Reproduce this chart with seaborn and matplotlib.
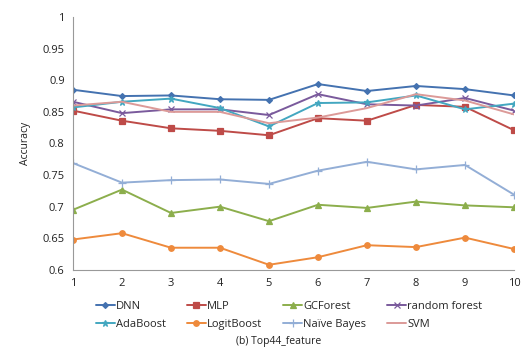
import pandas as pd
import seaborn as sns
import matplotlib.pyplot as plt

# feature set index on x axis
runs = [1, 2, 3, 4, 5, 6, 7, 8, 9, 10]

# accuracy
dnn = [0.885, 0.875, 0.876, 0.870, 0.869, 0.894, 0.883, 0.891, 0.886, 0.876]
mlp = [0.852, 0.836, 0.824, 0.820, 0.813, 0.840, 0.836, 0.861, 0.858, 0.821]
gcforest = [0.695, 0.727, 0.690, 0.700, 0.677, 0.703, 0.698, 0.708, 0.702, 0.699]
random_forest = [0.866, 0.848, 0.854, 0.854, 0.845, 0.878, 0.862, 0.860, 0.872, 0.852]
adaboost = [0.857, 0.866, 0.871, 0.856, 0.827, 0.864, 0.865, 0.876, 0.854, 0.863]
logitboost = [0.648, 0.658, 0.635, 0.635, 0.608, 0.620, 0.639, 0.636, 0.651, 0.633]
naive_bayes = [0.769, 0.738, 0.742, 0.743, 0.736, 0.757, 0.771, 0.759, 0.766, 0.719]
svm = [0.860, 0.866, 0.850, 0.850, 0.832, 0.841, 0.856, 0.878, 0.868, 0.846]

models = ['DNN', 'MLP', 'GCForest', 'random forest',
          'AdaBoost', 'LogitBoost', 'Naïve Bayes', 'SVM']
series = [dnn, mlp, gcforest, random_forest, adaboost, logitboost, naive_bayes, svm]

# long format table for seaborn
rows = []
for name, vals in zip(models, series):
    for x, v in zip(runs, vals):
        rows.append({'run': x, 'accuracy': v, 'model': name})
df = pd.DataFrame(rows)

sns.set_style('white')
plt.rcParams['font.family'] = ['Open Sans', 'DejaVu Sans']

colors = ['#4472B0', '#BE4B48', '#8CAE4C', '#7A5A9C',
          '#43A7C0', '#EE8A3C', '#93AED6', '#DC9A98']
markers = ['D', 's', '^', 'x', '*', 'o', '+', '']
sizes = [3, 4, 4.5, 4.5, 5, 4, 5.5, 0]

fig, ax = plt.subplots(figsize=(5.25, 3.56), dpi=100)
for name, c, m, s in zip(models, colors, markers, sizes):
    sub = df[df['model'] == name]
    sns.lineplot(data=sub, x='run', y='accuracy', ax=ax, color=c, marker=m if m else None,
                 markersize=s, markeredgecolor=c, markeredgewidth=0.9, linewidth=1.4, label=name)

ax.set_xlim(1, 10)
ax.set_ylim(0.6, 1.0)
ax.set_xticks(runs)
ax.set_yticks([0.6, 0.65, 0.7, 0.75, 0.8, 0.85, 0.9, 0.95, 1.0])
ax.set_yticklabels(['0.6', '0.65', '0.7', '0.75', '0.8', '0.85', '0.9', '0.95', '1'])
ax.set_xlabel('')
ax.set_ylabel('Accuracy', fontsize=7.5, color='#222222', labelpad=8)
ax.tick_params(labelsize=8, colors='#222222', direction='in', length=3, pad=6)
ax.tick_params(axis='both', color='#999999')
for side in ['top', 'right']:
    ax.spines[side].set_visible(False)
for side in ['left', 'bottom']:
    ax.spines[side].set_color('#999999')

# legend fills row by row like the original
handles, labels = ax.get_legend_handles_labels()
order = [0, 4, 1, 5, 2, 6, 3, 7]
ax.legend([handles[i] for i in order], [labels[i] for i in order],
          loc='upper center', bbox_to_anchor=(0.49, -0.085), ncol=4, frameon=False,
          fontsize=8, handlelength=1.7, handletextpad=0.1, columnspacing=1.9,
          labelspacing=0.6)

fig.text(0.53, 0.035, '(b) Top44_feature', ha='center', fontsize=7.5, color='#222222')
fig.subplots_adjust(left=0.139, right=0.979, top=0.952, bottom=0.242)
fig.savefig('out.png', dpi=100)
